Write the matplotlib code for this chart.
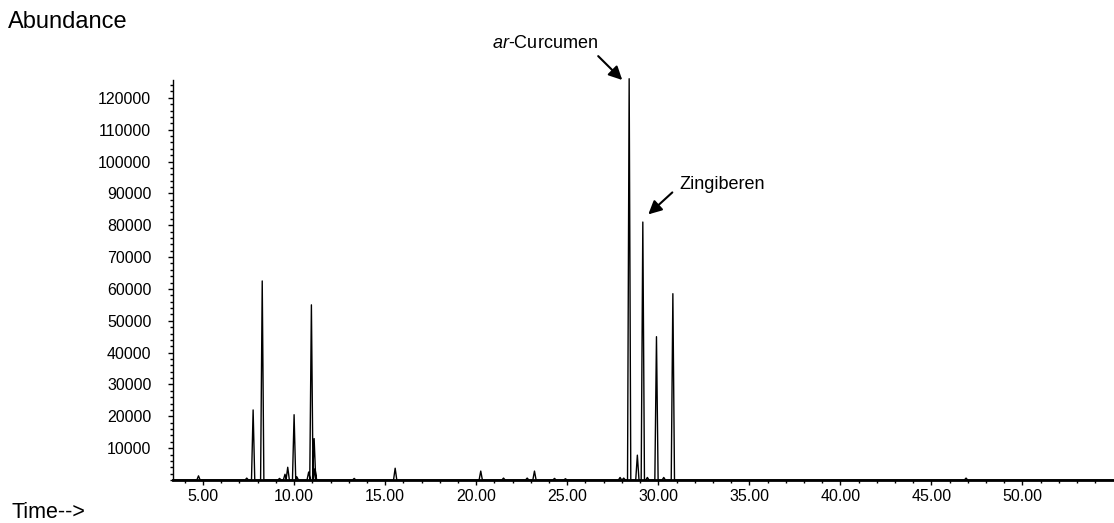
import numpy as np
import matplotlib
matplotlib.use('Agg')
import matplotlib.pyplot as plt
from matplotlib.ticker import MultipleLocator, FixedLocator, FormatStrFormatter

plt.rcParams['font.family'] = ['Liberation Sans', 'DejaVu Sans']
plt.rcParams['mathtext.fontset'] = 'custom'
plt.rcParams['mathtext.rm'] = 'Liberation Sans'
plt.rcParams['mathtext.it'] = 'Liberation Sans:italic'

# Cromatograma: tiempo de retencion (min) y abundancia de cada pico
peak_rt = [4.75, 7.4, 7.75, 8.25, 9.2, 9.5, 9.65, 10.0, 10.15, 10.8, 10.95, 11.1, 11.15,
           13.3, 15.55, 20.25, 21.5, 22.8, 23.2, 24.3, 24.9, 27.9, 28.1, 28.4, 28.85,
           29.15, 29.4, 29.9, 30.3, 30.8, 46.9]
peak_abund = [1300, 600, 22000, 62500, 500, 1800, 4000, 20500, 1000, 2500, 55000, 13000, 3500,
              500, 3700, 2800, 600, 600, 2800, 500, 400, 800, 600, 126000, 7800,
              81000, 800, 45000, 800, 58500, 600]

t_start, t_end = 3.35, 54.97
half_w = 0.09

# la traza: linea base con picos triangulares
t_trace = [t_start]
a_trace = [0]
for rt, h in zip(peak_rt, peak_abund):
    t_trace += [rt - half_w, rt, rt + half_w]
    a_trace += [0, h, 0]
t_trace.append(t_end)
a_trace.append(0)

fig = plt.figure(figsize=(11.14, 5.23), dpi=100)
ax = fig.add_axes([173/1114, 43/523, 940/1114, 400/523])

ax.plot(t_trace, a_trace, color='black', lw=1.0, clip_on=False)

ax.set_xlim(t_start, t_end)
ax.set_ylim(0, 125600)

ax.spines['top'].set_visible(False)
ax.spines['right'].set_visible(False)
ax.spines['bottom'].set_linewidth(2)
ax.spines['left'].set_linewidth(1)

ax.xaxis.set_major_locator(MultipleLocator(5))
ax.xaxis.set_minor_locator(MultipleLocator(1))
ax.xaxis.set_major_formatter(FormatStrFormatter('%.2f'))
ax.yaxis.set_major_locator(FixedLocator(np.arange(10000, 125000, 10000)))
ax.yaxis.set_minor_locator(MultipleLocator(2000))
ax.yaxis.set_major_formatter(FormatStrFormatter('%d'))

ax.tick_params(axis='both', which='major', direction='out', length=3.6, width=1, labelsize=11.5)
ax.tick_params(axis='both', which='minor', direction='out', length=2.2, width=1)
ax.tick_params(axis='x', which='major', pad=3)
ax.tick_params(axis='y', which='major', pad=12)

# etiquetas de los picos
ax.annotate('', xy=(28.02, 125600), xytext=(26.7, 133100), annotation_clip=False,
            arrowprops=dict(arrowstyle='-|>', color='black', lw=1.5, mutation_scale=20,
                            shrinkA=0, shrinkB=0))
ax.text(23.79, 137200, r'$\it{ar}$-Curcumen', ha='center', va='center', fontsize=13)

ax.annotate('', xy=(29.45, 83400), xytext=(30.77, 90300),
            arrowprops=dict(arrowstyle='-|>', color='black', lw=1.5, mutation_scale=20,
                            shrinkA=0, shrinkB=0))
ax.text(33.49, 92800, 'Zingiberen', ha='center', va='center', fontsize=13)

fig.text(8/1114, 1 - 22/523, 'Abundance', ha='left', va='center', fontsize=17)
fig.text(12/1114, 1 - 512/523, 'Time-->', ha='left', va='center', fontsize=15.5)

fig.savefig('out.png', dpi=100)
